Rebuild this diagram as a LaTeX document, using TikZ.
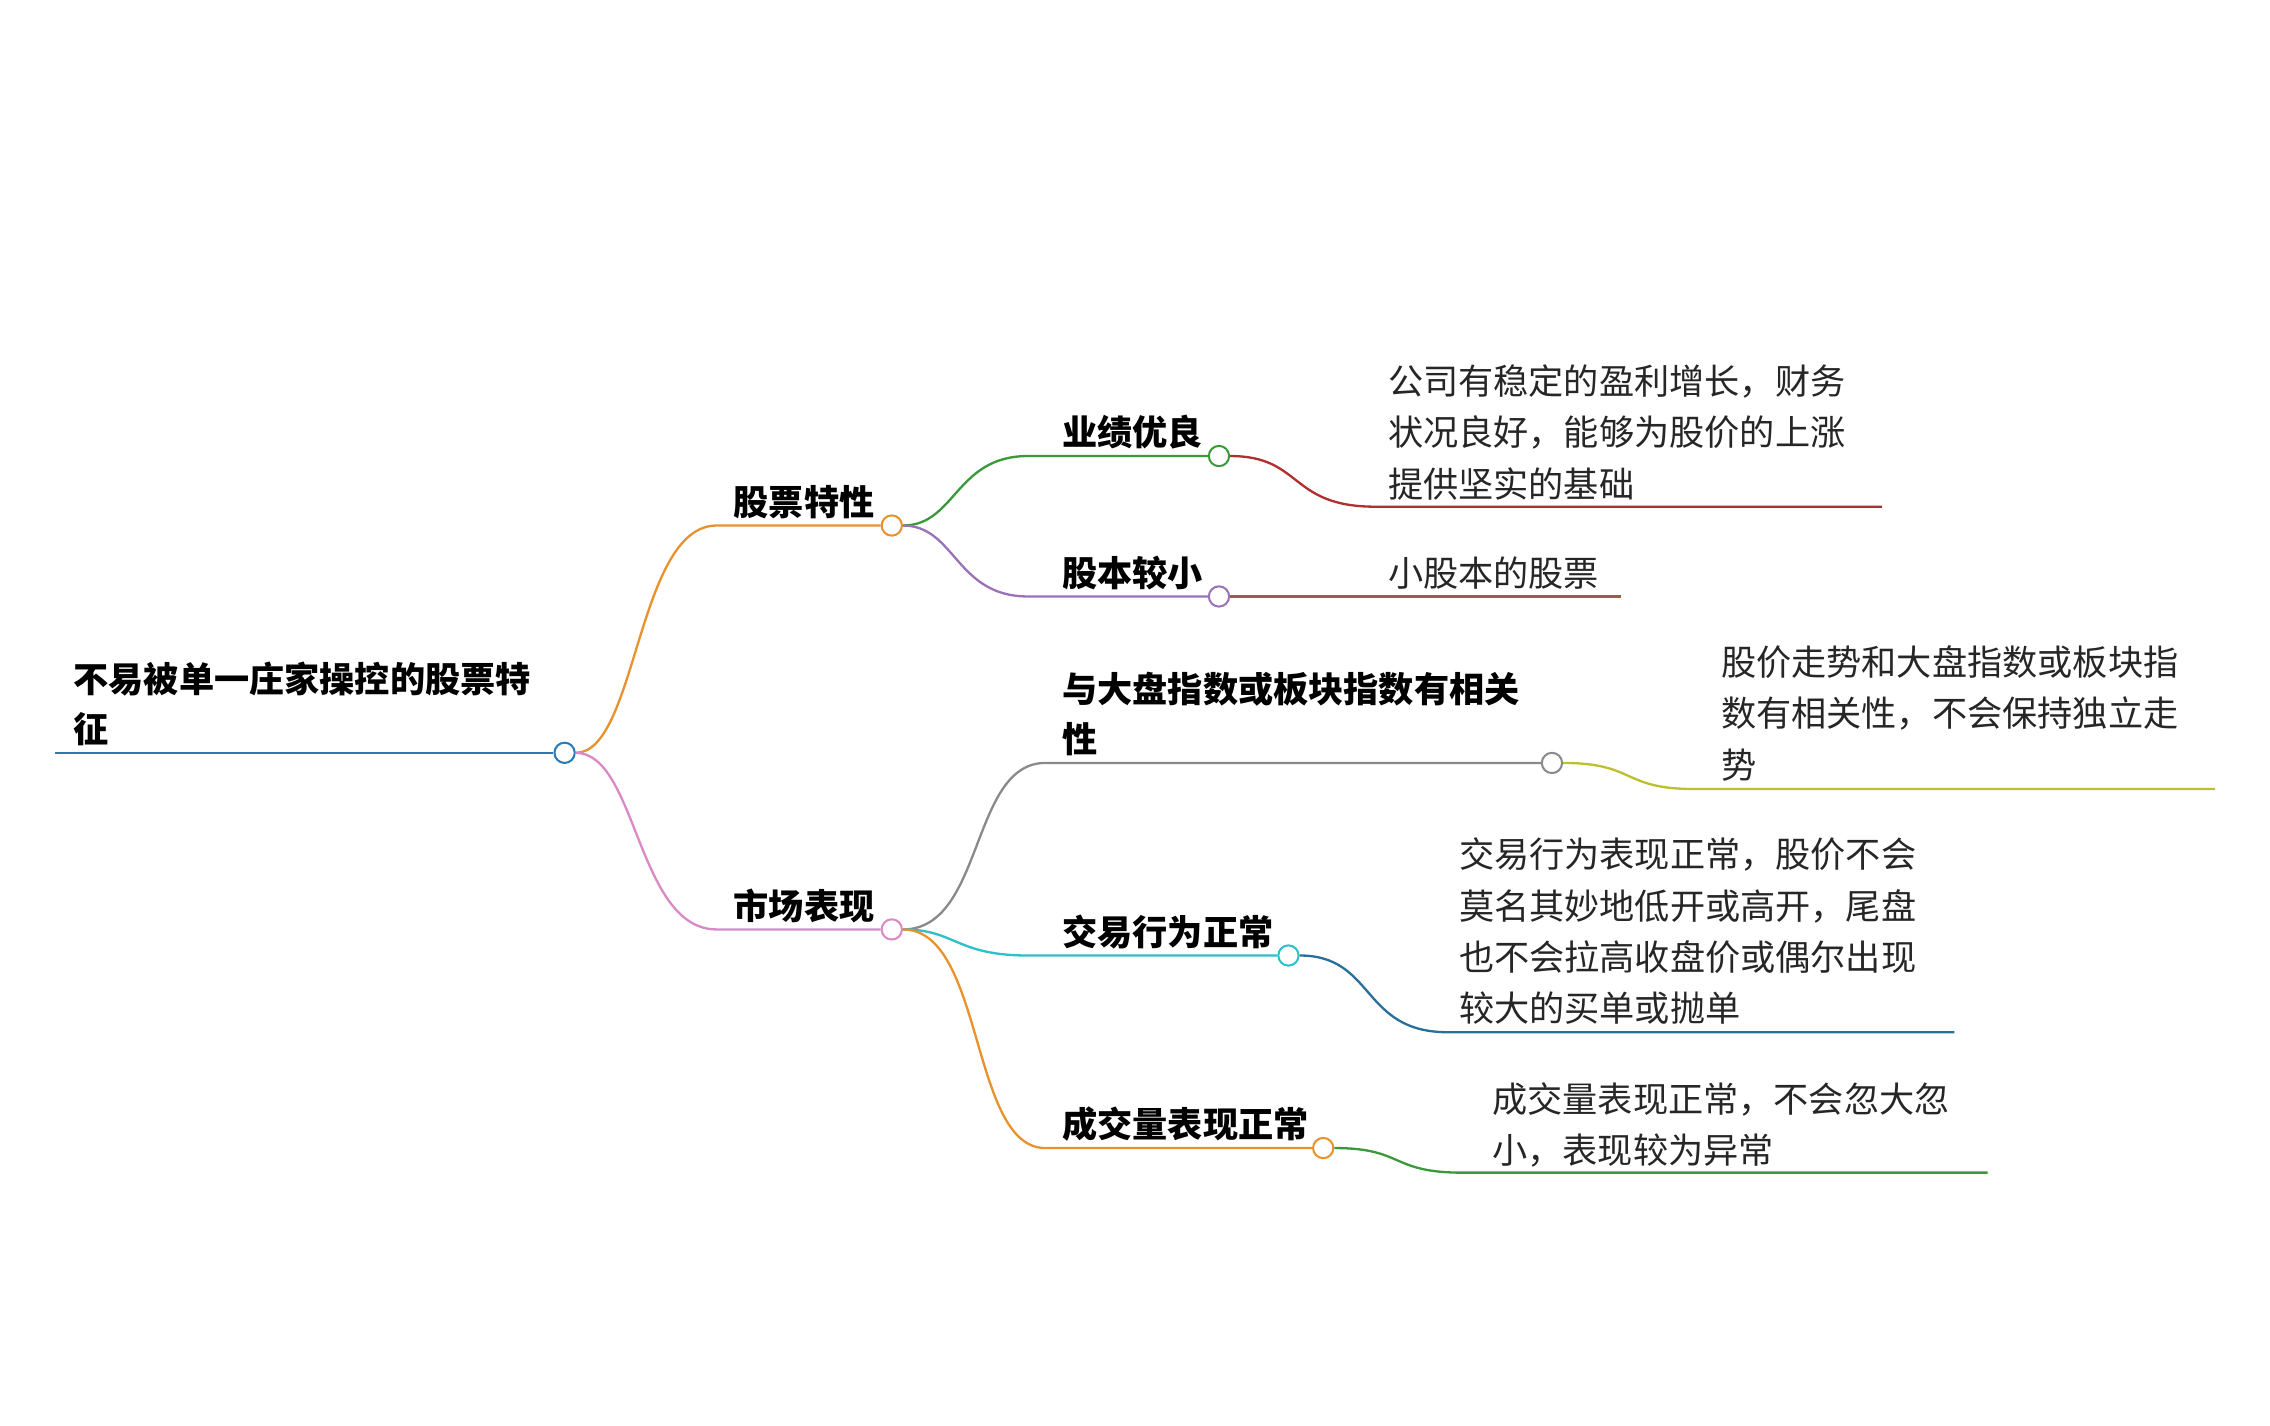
\documentclass[tikz,border=0pt]{standalone}
\usepackage{fontspec}
\setmainfont{Noto Sans CJK SC}
\begin{document}
\begin{tikzpicture}[x=1pt,y=-1pt,line width=1.6pt,
 dot/.style={circle,draw,fill=white,inner sep=0pt,minimum size=14pt,line width=1.4pt},
 lbl/.style={anchor=base west,inner sep=0pt,font=\fontsize{24.3}{35}\selectfont\bfseries},
 txt/.style={anchor=north west,inner sep=0pt,align=left,font=\fontsize{24.3}{35.5}\selectfont,text=black!85}]
\useasboundingbox (0,0) rectangle (1568,985);
\definecolor{cblue}{HTML}{2A7AB8}\definecolor{corange}{HTML}{E8922E}\definecolor{cpink}{HTML}{D98AC6}
\definecolor{cgreen}{HTML}{3A9A3A}\definecolor{cred}{HTML}{B03030}\definecolor{cpurple}{HTML}{9A72B8}
\definecolor{cbrown}{HTML}{A05A4A}\definecolor{cgray}{HTML}{8A8A8A}\definecolor{cyel}{HTML}{BCC030}
\definecolor{cteal}{HTML}{2EBFC8}\definecolor{cdblue}{HTML}{2A6E9A}
% root
\coordinate (rs) at (38,520);
\node[dot,draw=cblue] (r) at (390,520) {};
\draw[cblue] (rs) -- (r);
\node[lbl] at (50,478) {不易被单一庄家操控的股票特};
\node[lbl] at (50,513) {征};
% branch 1
\node[dot,draw=corange] (b1) at (616,363) {};
\draw[corange] (r.east) .. controls (440,520) and (440,363) .. (495,363) -- (b1);
\node[lbl] at (506,356) {股票特性};
\node[dot,draw=cgreen] (c1) at (842,315) {};
\draw[cgreen] (b1.east) .. controls (660,363) and (660,315) .. (710,315) -- (c1);
\node[lbl] at (733,308) {业绩优良};
\coordinate (e1) at (1300,350);
\draw[cred] (c1.east) .. controls (900,315) and (890,350) .. (950,350) -- (e1);
\node[txt] at (958,251) {公司有稳定的盈利增长，财务\\状况良好，能够为股价的上涨\\提供坚实的基础};
\node[dot,draw=cpurple] (c2) at (842,412) {};
\draw[cpurple] (b1.east) .. controls (660,363) and (660,412) .. (710,412) -- (c2);
\node[lbl] at (733,405) {股本较小};
\coordinate (e2) at (1120,412);
\draw[cbrown] (c2.east) -- (e2);
\node[anchor=base west,inner sep=0pt,font=\fontsize{24.3}{35}\selectfont,text=black!85] at (958,405) {小股本的股票};
% branch 2
\node[dot,draw=cpink] (b2) at (616,642) {};
\draw[cpink] (r.east) .. controls (440,520) and (440,642) .. (495,642) -- (b2);
\node[lbl] at (506,635) {市场表现};
\node[dot,draw=cgray] (c3) at (1072,527) {};
\draw[cgray] (b2.east) .. controls (680,642) and (670,527) .. (722,527) -- (c3);
\node[lbl] at (733,485) {与大盘指数或板块指数有相关};
\node[lbl] at (733,520) {性};
\coordinate (e3) at (1530,545);
\draw[cyel] (c3.east) .. controls (1130,527) and (1120,545) .. (1170,545) -- (e3);
\node[txt] at (1188,445) {股价走势和大盘指数或板块指\\数有相关性，不会保持独立走\\势};
\node[dot,draw=cteal] (c4) at (890,660) {};
\draw[cteal] (b2.east) .. controls (660,642) and (660,660) .. (710,660) -- (c4);
\node[lbl] at (733,653) {交易行为正常};
\coordinate (e4) at (1350,713);
\draw[cdblue] (c4.east) .. controls (950,660) and (940,713) .. (1000,713) -- (e4);
\node[txt] at (1007,578) {交易行为表现正常，股价不会\\莫名其妙地低开或高开，尾盘\\也不会拉高收盘价或偶尔出现\\较大的买单或抛单};
\node[dot,draw=corange] (c5) at (914,793) {};
\draw[corange] (b2.east) .. controls (680,642) and (670,793) .. (722,793) -- (c5);
\node[lbl] at (733,786) {成交量表现正常};
\coordinate (e5) at (1373,810);
\draw[cgreen] (c5.east) .. controls (970,793) and (960,810) .. (1010,810) -- (e5);
\node[txt] at (1030,747) {成交量表现正常，不会忽大忽\\小，表现较为异常};
\end{tikzpicture}
\end{document}
